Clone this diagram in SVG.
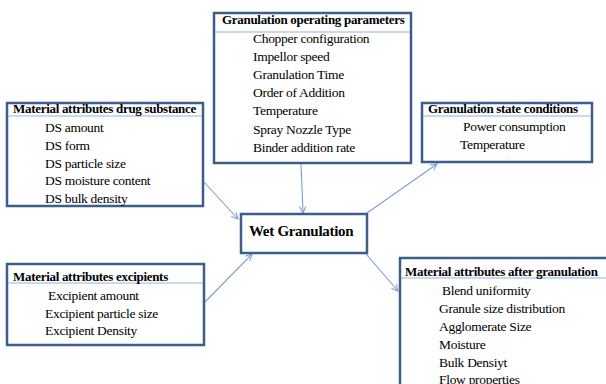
<svg xmlns="http://www.w3.org/2000/svg" width="606" height="384" viewBox="0 0 606 384">
<defs>
<style>
.box{fill:#fff;stroke:#3D5E8B;stroke-width:2.5}
.sep{stroke:#8DB3E2;stroke-width:1.2}
.hd{font-weight:bold;font-size:13px;fill:#000;letter-spacing:-0.3px}
.it{font-size:13.5px;fill:#000;letter-spacing:-0.3px}
.wg{font-weight:bold;font-size:15px;fill:#000;letter-spacing:-0.3px}
.cn{stroke:#7C9FD0;stroke-width:1.1;fill:none;marker-end:url(#ah)}
</style>
<marker id="ah" viewBox="0 0 10 10" refX="9" refY="5" markerWidth="8" markerHeight="8" orient="auto" markerUnits="userSpaceOnUse">
<path d="M1,1 L9,5 L1,9" fill="none" stroke="#7C9FD0" stroke-width="1.3"/>
</marker>
</defs>
<rect width="606" height="384" fill="#fff"/>
<g id="connectors">
<line class="cn" x1="301" y1="164" x2="303" y2="213"/>
<line class="cn" x1="204" y1="182" x2="238" y2="219"/>
<line class="cn" x1="204" y1="303" x2="252" y2="254"/>
<line class="cn" x1="367" y1="213" x2="437" y2="164"/>
<line class="cn" x1="366" y1="254" x2="398" y2="291"/>
</g>
<g font-family="Liberation Serif, Times New Roman, DejaVu Serif, serif">
<g id="top">
<rect class="box" x="214" y="13" width="197" height="150"/>
<line class="sep" x1="215" y1="32" x2="410" y2="32"/>
<text class="hd" x="222" y="24">Granulation operating parameters</text>
<text class="it" x="253" y="43">Chopper configuration</text>
<text class="it" x="253" y="61">Impellor speed</text>
<text class="it" x="253" y="79">Granulation Time</text>
<text class="it" x="253" y="97">Order of Addition</text>
<text class="it" x="253" y="115">Temperature</text>
<text class="it" x="253" y="133.5">Spray Nozzle Type</text>
<text class="it" x="253" y="152">Binder addition rate</text>
</g>
<g id="drug">
<rect class="box" x="7" y="103" width="196" height="103"/>
<line class="sep" x1="8" y1="116" x2="202" y2="116"/>
<text class="hd" x="13" y="113">Material attributes drug substance</text>
<text class="it" x="45" y="132">DS amount</text>
<text class="it" x="45" y="150">DS form</text>
<text class="it" x="45" y="167.5">DS particle size</text>
<text class="it" x="45" y="185">DS moisture content</text>
<text class="it" x="45" y="202.5">DS bulk density</text>
</g>
<g id="excip">
<rect class="box" x="7" y="264" width="197" height="81"/>
<line class="sep" x1="8" y1="283" x2="203" y2="283"/>
<text class="hd" x="13" y="281">Material attributes excipients</text>
<text class="it" x="48" y="300">Excipient amount</text>
<text class="it" x="45" y="317.5">Excipient particle size</text>
<text class="it" x="45" y="335">Excipient Density</text>
</g>
<g id="state">
<rect class="box" x="422" y="103" width="170" height="59"/>
<line class="sep" x1="423" y1="116" x2="591" y2="116"/>
<text class="hd" x="428" y="113">Granulation state conditions</text>
<text class="it" x="463" y="131">Power consumption</text>
<text class="it" x="460" y="149">Temperature</text>
</g>
<g id="after">
<rect class="box" x="400" y="258" width="220" height="140"/>
<line class="sep" x1="401" y1="278" x2="606" y2="278"/>
<text class="hd" x="405" y="276">Material attributes after granulation</text>
<text class="it" x="442" y="295">Blend uniformity</text>
<text class="it" x="439" y="313">Granule size distribution</text>
<text class="it" x="439" y="331">Agglomerate Size</text>
<text class="it" x="439" y="349">Moisture</text>
<text class="it" x="439" y="367">Bulk Densiyt</text>
<text class="it" x="439" y="384">Flow properties</text>
</g>
<g id="wet">
<rect class="box" x="241" y="214" width="126" height="39"/>
<text class="wg" x="249" y="236">Wet Granulation</text>
</g>
</g>
</svg>
